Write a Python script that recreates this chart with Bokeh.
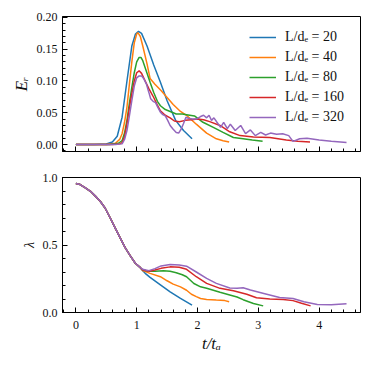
from bokeh.plotting import figure
from bokeh.layouts import column
from bokeh.models import (Range1d, Legend, LegendItem, SingleIntervalTicker, NumeralTickFormatter,
                          CustomJSTickFormatter)
from bokeh.embed import file_html
from bokeh.resources import INLINE

# ---------------- data ----------------
labels = ["L/dₑ = 20", "L/dₑ = 40", "L/dₑ = 80", "L/dₑ = 160", "L/dₑ = 320"]
colors = ["#1f77b4", "#ff7f0e", "#2ca02c", "#d62728", "#9467bd"]

# top panel: E_R vs t/t_A
tE20 = [0, 0.3, 0.5, 0.6, 0.68, 0.76, 0.84, 0.92, 0.98, 1.03, 1.08, 1.17, 1.28, 1.39, 1.5, 1.64, 1.77, 1.91]
E20 = [0, 0, 0.001, 0.004, 0.013, 0.043, 0.10, 0.155, 0.174, 0.178, 0.175, 0.155, 0.125, 0.098, 0.069, 0.038, 0.022, 0.009]

tE40 = [0, 0.5, 0.65, 0.72, 0.76, 0.8, 0.84, 0.88, 0.92, 0.96, 1.0, 1.02, 1.06, 1.1, 1.17, 1.22, 1.3, 1.4, 1.5, 1.6,
        1.72, 1.82, 1.98, 2.15, 2.31, 2.42, 2.52]
E40 = [0, 0, 0.002, 0.008, 0.017, 0.035, 0.059, 0.095, 0.13, 0.16, 0.174, 0.176, 0.17, 0.155, 0.127, 0.104, 0.095,
       0.085, 0.074, 0.063, 0.052, 0.046, 0.032, 0.018, 0.009, 0.006, 0.004]

tE80 = [0, 0.55, 0.7, 0.76, 0.8, 0.84, 0.88, 0.92, 0.96, 1.0, 1.04, 1.07, 1.1, 1.17, 1.22, 1.28, 1.34, 1.39, 1.47,
        1.55, 1.65, 1.75, 1.82, 1.95, 2.09, 2.26, 2.42, 2.59, 2.75, 2.9, 3.07]
E80 = [0, 0, 0.002, 0.006, 0.018, 0.038, 0.065, 0.09, 0.113, 0.13, 0.137, 0.137, 0.132, 0.112, 0.098, 0.082, 0.068,
       0.061, 0.055, 0.052, 0.048, 0.048, 0.047, 0.045, 0.035, 0.027, 0.019, 0.011, 0.009, 0.007, 0.005]

tE160 = [0, 0.6, 0.72, 0.76, 0.8, 0.84, 0.88, 0.92, 0.96, 1.0, 1.04, 1.08, 1.14, 1.2, 1.28, 1.34, 1.39, 1.47, 1.55,
         1.62, 1.7, 1.8, 1.9, 2.0, 2.1, 2.2, 2.37, 2.53, 2.7, 2.92, 3.19, 3.46, 3.65, 3.85]
E160 = [0, 0, 0.001, 0.003, 0.012, 0.033, 0.058, 0.08, 0.1, 0.113, 0.116, 0.112, 0.1, 0.088, 0.074, 0.062, 0.053,
        0.046, 0.042, 0.037, 0.036, 0.038, 0.039, 0.040, 0.039, 0.036, 0.030, 0.020, 0.014, 0.012, 0.011, 0.007,
        0.005, 0.004]

tE320 = [0, 0.65, 0.76, 0.8, 0.84, 0.88, 0.92, 0.96, 1.0, 1.04, 1.08, 1.12, 1.16, 1.2, 1.23, 1.27, 1.31, 1.35, 1.39,
         1.43, 1.47, 1.51, 1.55, 1.6, 1.65, 1.69, 1.73, 1.77, 1.81, 1.86, 1.92, 1.98, 2.05, 2.1, 2.15, 2.19, 2.23,
         2.27, 2.32, 2.38, 2.43, 2.49, 2.54, 2.62, 2.71, 2.79, 2.87, 2.95, 3.04, 3.12, 3.2, 3.3, 3.4, 3.5, 3.57,
         3.68, 3.8, 4.0, 4.2, 4.45]
E320 = [0, 0, 0.001, 0.008, 0.022, 0.045, 0.069, 0.092, 0.105, 0.108, 0.108, 0.103, 0.095, 0.082, 0.072, 0.068,
        0.066, 0.058, 0.051, 0.047, 0.045, 0.038, 0.030, 0.024, 0.019, 0.018, 0.024, 0.033, 0.043, 0.041, 0.040,
        0.040, 0.044, 0.046, 0.042, 0.046, 0.038, 0.042, 0.035, 0.027, 0.035, 0.025, 0.032, 0.022, 0.030, 0.017,
        0.023, 0.014, 0.019, 0.015, 0.018, 0.016, 0.017, 0.014, 0.005, 0.009, 0.010, 0.007, 0.005, 0.003]

# bottom panel: lambda vs t/t_A
tL20 = [0, 0.07, 0.15, 0.24, 0.32, 0.4, 0.48, 0.565, 0.647, 0.73, 0.81, 0.895, 0.977, 1.06, 1.1, 1.14, 1.22, 1.39,
        1.55, 1.72, 1.91]
L20 = [0.955, 0.948, 0.925, 0.898, 0.862, 0.824, 0.774, 0.70, 0.625, 0.551, 0.481, 0.419, 0.365, 0.332, 0.31, 0.29,
       0.26, 0.205, 0.153, 0.104, 0.054]

tL40 = [0, 0.07, 0.15, 0.24, 0.32, 0.4, 0.48, 0.565, 0.647, 0.73, 0.81, 0.895, 0.977, 1.06, 1.1, 1.22, 1.39, 1.5,
        1.6, 1.72, 1.82, 1.9, 1.98, 2.05, 2.15, 2.31, 2.45, 2.52]
L40 = [0.955, 0.948, 0.925, 0.898, 0.862, 0.824, 0.774, 0.70, 0.625, 0.551, 0.481, 0.419, 0.365, 0.332, 0.31, 0.29,
       0.265, 0.235, 0.21, 0.19, 0.165, 0.135, 0.118, 0.104, 0.097, 0.092, 0.088, 0.080]

tL80 = [0, 0.07, 0.15, 0.24, 0.32, 0.4, 0.48, 0.565, 0.647, 0.73, 0.81, 0.895, 0.977, 1.06, 1.1, 1.2, 1.3, 1.44,
        1.55, 1.65, 1.75, 1.82, 1.94, 2.05, 2.15, 2.37, 2.53, 2.65, 2.75, 2.92, 3.08]
L80 = [0.955, 0.948, 0.925, 0.898, 0.862, 0.824, 0.774, 0.70, 0.625, 0.551, 0.481, 0.419, 0.365, 0.332, 0.315,
       0.305, 0.305, 0.31, 0.305, 0.295, 0.28, 0.265, 0.215, 0.19, 0.179, 0.150, 0.13, 0.115, 0.095, 0.067, 0.049]

tL160 = [0, 0.07, 0.15, 0.24, 0.32, 0.4, 0.48, 0.565, 0.647, 0.73, 0.81, 0.895, 0.977, 1.06, 1.1, 1.2, 1.3, 1.4,
         1.55, 1.7, 1.82, 1.98, 2.15, 2.37, 2.59, 2.81, 2.97, 3.19, 3.41, 3.57, 3.71, 3.86]
L160 = [0.955, 0.948, 0.925, 0.898, 0.862, 0.824, 0.774, 0.70, 0.625, 0.551, 0.481, 0.419, 0.365, 0.332, 0.315,
        0.305, 0.315, 0.327, 0.338, 0.335, 0.32, 0.265, 0.216, 0.179, 0.161, 0.135, 0.109, 0.10, 0.097, 0.088,
        0.069, 0.049]

tL320 = [0, 0.07, 0.15, 0.24, 0.32, 0.4, 0.48, 0.565, 0.647, 0.73, 0.81, 0.895, 0.977, 1.06, 1.1, 1.2, 1.3, 1.4,
         1.55, 1.7, 1.82, 1.98, 2.15, 2.31, 2.53, 2.65, 2.75, 2.87, 3.09, 3.35, 3.57, 3.75, 3.97, 4.2, 4.45]
L320 = [0.955, 0.948, 0.925, 0.898, 0.862, 0.824, 0.774, 0.70, 0.625, 0.551, 0.481, 0.419, 0.365, 0.332, 0.32,
        0.31, 0.325, 0.345, 0.355, 0.352, 0.343, 0.30, 0.253, 0.216, 0.182, 0.18, 0.183, 0.166, 0.141, 0.111,
        0.104, 0.079, 0.06, 0.057, 0.064]

top_series = [(tE20, E20), (tE40, E40), (tE80, E80), (tE160, E160), (tE320, E320)]
bot_series = [(tL20, L20), (tL40, L40), (tL80, L80), (tL160, L160), (tL320, L320)]

FONT = "Liberation Serif"


def style(p):
    p.xgrid.visible = False
    p.ygrid.visible = False
    p.outline_line_color = "black"
    p.outline_line_width = 1
    p.background_fill_color = "white"
    p.border_fill_color = "white"
    for ax in (p.xaxis[0], p.yaxis[0]):
        ax.axis_line_color = "black"
        ax.axis_line_width = 1
        ax.major_tick_in = 5
        ax.major_tick_out = 0
        ax.minor_tick_in = 3
        ax.minor_tick_out = 0
        ax.major_tick_line_color = "black"
        ax.minor_tick_line_color = "black"
        ax.major_label_text_font = FONT
        ax.major_label_text_font_size = "12px"
        ax.major_label_text_color = "#111111"
        ax.axis_label_text_font = FONT
        ax.axis_label_text_font_style = "italic"
        ax.axis_label_text_color = "#111111"


x_range = Range1d(-0.22, 4.68)

p1 = figure(width=364, height=164, x_range=x_range, y_range=Range1d(-0.011, 0.2015),
            output_backend="svg", toolbar_location=None,
            min_border_left=62, min_border_right=4, min_border_top=16, min_border_bottom=13)
style(p1)
p1.xaxis[0].ticker = SingleIntervalTicker(interval=1, num_minor_ticks=5)
p1.xaxis[0].formatter = CustomJSTickFormatter(code="return ''")
p1.xaxis[0].major_label_standoff = 0
p1.yaxis[0].ticker = SingleIntervalTicker(interval=0.05, num_minor_ticks=5)
p1.yaxis[0].formatter = NumeralTickFormatter(format="0.00")
p1.yaxis[0].axis_label = "Eᵣ"
p1.yaxis[0].axis_label_text_font_size = "17px"
p1.yaxis[0].axis_label_standoff = 3
p1.yaxis[0].major_label_standoff = 5

items = []
for (t, e), c, lab in zip(top_series, colors, labels):
    r = p1.line(t, e, line_color=c, line_width=1.5)
    items.append(LegendItem(label=lab, renderers=[r]))

legend = Legend(items=items, location=(187, 26), border_line_color=None, background_fill_alpha=0,
                label_text_font=FONT, label_text_font_size="14px", label_text_color="#111111",
                glyph_width=27, glyph_height=16, label_height=16, spacing=4, padding=4, margin=0,
                label_standoff=9)
p1.add_layout(legend, "center")

p2 = figure(width=364, height=194, x_range=x_range, y_range=Range1d(0, 1),
            output_backend="svg", toolbar_location=None,
            min_border_left=62, min_border_right=4, min_border_top=13, min_border_bottom=46)
style(p2)
p2.xaxis[0].ticker = SingleIntervalTicker(interval=1, num_minor_ticks=5)
p2.xaxis[0].major_label_standoff = 8
p2.xaxis[0].axis_label = "t/tₐ"
p2.xaxis[0].axis_label_text_font_size = "17px"
p2.xaxis[0].axis_label_standoff = 2
p2.yaxis[0].ticker = SingleIntervalTicker(interval=0.5, num_minor_ticks=5)
p2.yaxis[0].formatter = NumeralTickFormatter(format="0.0")
p2.yaxis[0].axis_label = "λ"
p2.yaxis[0].axis_label_text_font_size = "14px"
p2.yaxis[0].axis_label_standoff = 3
p2.yaxis[0].major_label_standoff = 5

for (t, l), c in zip(bot_series, colors):
    p2.line(t, l, line_color=c, line_width=1.5)

layout = column(p1, p2, spacing=0)
open("out.html", "w").write(file_html(layout, INLINE))
